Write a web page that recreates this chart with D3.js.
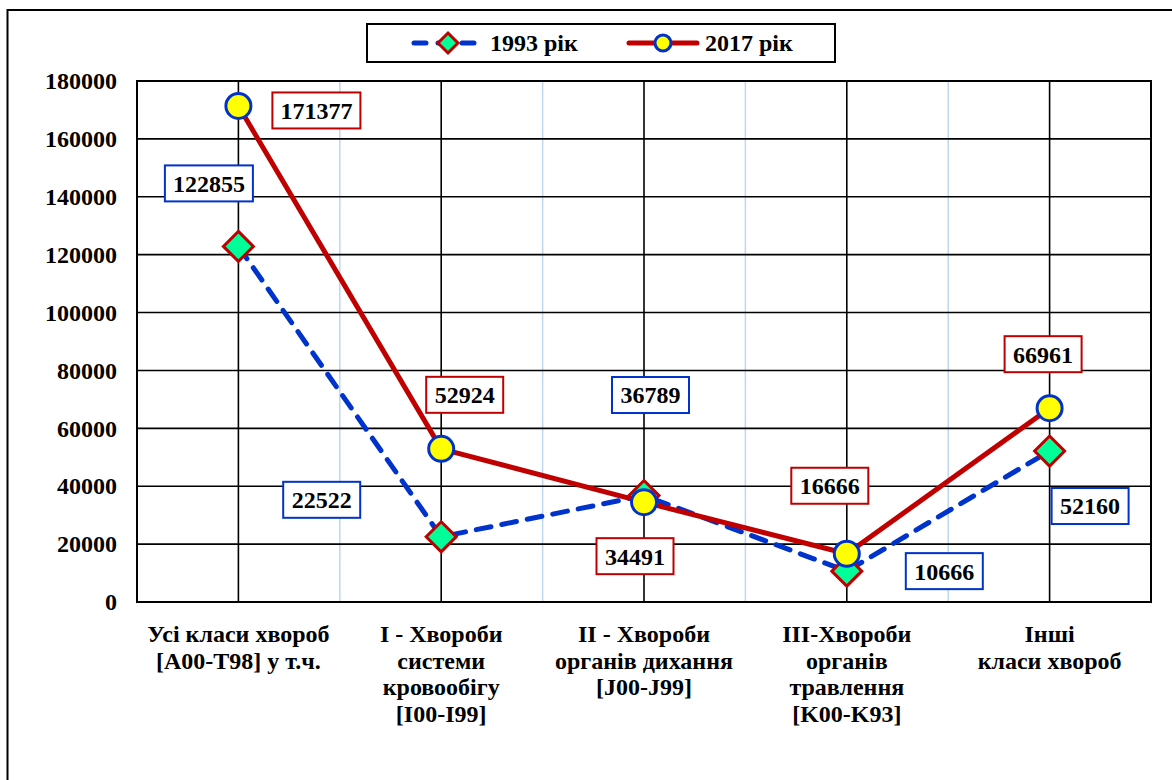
<!DOCTYPE html>
<html><head><meta charset="utf-8">
<script src="https://cdn.jsdelivr.net/npm/d3@7/dist/d3.min.js"></script>
</head>
<body style="margin:0;padding:0;background:#fff">
<svg id="chart" width="1172" height="780" style="display:block"></svg>
<script>
// ---- data ----
const categories = [
  ["Усі класи хвороб", "[A00-T98] у т.ч."],
  ["I - Хвороби", "системи", "кровообігу", "[I00-I99]"],
  ["II - Хвороби", "органів дихання", "[J00-J99]"],
  ["III-Хвороби", "органів", "травлення", "[K00-K93]"],
  ["Інші", "класи хвороб"]
];
const seriesNames = ["1993 рік", "2017 рік"];
const values1993 = [122855, 22522, 36789, 10666, 52160];
const values2017 = [171377, 52924, 34491, 16666, 66961];
const yTicks = [0, 20000, 40000, 60000, 80000, 100000, 120000, 140000, 160000, 180000];

// ---- label placement (pixel offsets from point) ----
const labelOffsets1993 = [[-29.5,-63],[-119.5,-37],[6.5,-100.5],[97.5,0],[40.5,55]];
const labelOffsets2017 = [[78,4.5],[23.5,-54],[-9,54],[-17,-68],[-6.5,-54]];

const FONT = "Liberation Serif";
const FS = 24;
function styleText(sel){
  return sel.attr("font-family",FONT).attr("font-weight","bold").attr("font-size",FS)
    .style("font-family",FONT).style("font-weight","bold").style("font-size",FS+"px").style("fill","#000");
}
const svg = d3.select("#chart");
const L = 137, R = 1151, T = 81, B = 602;
const red = "#C00000", blue = "#0033CC";

// outer border
svg.append("rect").attr("x",7.5).attr("y",10).attr("width",1180).attr("height",790)
  .attr("fill","none").attr("stroke","#000").attr("stroke-width",2);

const x = d3.scaleBand().domain(d3.range(categories.length)).range([L,R]).paddingInner(0).paddingOuter(0);
const xc = i => x(i) + x.bandwidth()/2;
const y = d3.scaleLinear().domain([0,180000]).range([B,T]);

const g = svg.append("g");
g.selectAll(".vb").data(d3.range(1,categories.length)).join("line")
  .attr("x1",d=>x(d)).attr("x2",d=>x(d)).attr("y1",T).attr("y2",B)
  .attr("stroke","#BDD7EE").attr("stroke-width",1.5);
g.selectAll(".hg").data(yTicks).join("line")
  .attr("x1",L).attr("x2",R).attr("y1",d=>y(d)).attr("y2",d=>y(d))
  .attr("stroke","#000").attr("stroke-width",1.6);
g.selectAll(".vc").data(d3.range(categories.length)).join("line")
  .attr("x1",d=>xc(d)).attr("x2",d=>xc(d)).attr("y1",T).attr("y2",B)
  .attr("stroke","#000").attr("stroke-width",1.6);
g.append("rect").attr("x",L).attr("y",T).attr("width",R-L).attr("height",B-T)
  .attr("fill","none").attr("stroke","#000").attr("stroke-width",2);

// y axis labels
const yAxis = d3.axisLeft(y).tickValues(yTicks).tickSize(0).tickPadding(20).tickFormat(d3.format("d"));
const ya = svg.append("g").attr("transform",`translate(${L},0)`).call(yAxis);
ya.attr("font-family",FONT).attr("font-size",FS).attr("font-weight","bold");
ya.select(".domain").remove();
styleText(ya.selectAll("text"));

// category labels
const cl = svg.append("g");
categories.forEach((lines,i)=>{
  const t = styleText(cl.append("text").attr("text-anchor","middle"));
  lines.forEach((ln,j)=>{
    t.append("tspan").attr("x",xc(i)).attr("y",642 + j*26.5).text(ln);
  });
});

// series
const line = d3.line().x((d,i)=>xc(i)).y(d=>y(d));
svg.append("path").datum(values1993).attr("d",line).attr("fill","none")
  .attr("stroke",blue).attr("stroke-width",5).attr("stroke-dasharray","15,11").attr("stroke-linecap","round");
const dsz = 15;
svg.selectAll(".dm").data(values1993).join("path")
  .attr("d",(d,i)=>`M${xc(i)},${y(d)-dsz}L${xc(i)+dsz},${y(d)}L${xc(i)},${y(d)+dsz}L${xc(i)-dsz},${y(d)}Z`)
  .attr("fill","#00FF99").attr("stroke",red).attr("stroke-width",3);
svg.append("path").datum(values2017).attr("d",line).attr("fill","none")
  .attr("stroke",red).attr("stroke-width",5);
svg.selectAll(".cm").data(values2017).join("circle")
  .attr("cx",(d,i)=>xc(i)).attr("cy",d=>y(d)).attr("r",12.5)
  .attr("fill","#FFFF00").attr("stroke",blue).attr("stroke-width",3);

// data labels
function labels(vals, offs, color){
  vals.forEach((v,i)=>{
    const cx = xc(i)+offs[i][0], cy = y(v)+offs[i][1];
    const txt = String(v);
    const w = txt.length*11 + 22, h = 36;
    svg.append("rect").attr("x",cx-w/2).attr("y",cy-h/2).attr("width",w).attr("height",h)
      .attr("fill","#fff").attr("stroke",color).attr("stroke-width",2);
    styleText(svg.append("text").attr("x",cx).attr("y",cy).attr("dy","0.35em").attr("text-anchor","middle")).text(txt);
  });
}
labels(values1993, labelOffsets1993, blue);
labels(values2017, labelOffsets2017, red);

// legend
const lg = svg.append("g");
lg.append("rect").attr("x",367).attr("y",24).attr("width",468).attr("height",38)
  .attr("fill","#fff").attr("stroke","#000").attr("stroke-width",2);
const ly = 43;
lg.append("line").attr("x1",414).attr("x2",474).attr("y1",ly).attr("y2",ly)
  .attr("stroke",blue).attr("stroke-width",5).attr("stroke-linecap","round").attr("stroke-dasharray","12,12");
lg.append("path").attr("d",`M448,${ly-10}L458,${ly}L448,${ly+10}L438,${ly}Z`)
  .attr("fill","#00FF99").attr("stroke",red).attr("stroke-width",3);
styleText(lg.append("text").attr("x",490).attr("y",ly).attr("dy","0.35em")).text(seriesNames[0]);
lg.append("line").attr("x1",629).attr("x2",697).attr("y1",ly).attr("y2",ly)
  .attr("stroke",red).attr("stroke-width",5).attr("stroke-linecap","round");
lg.append("circle").attr("cx",663).attr("cy",ly).attr("r",8)
  .attr("fill","#FFFF00").attr("stroke",blue).attr("stroke-width",3);
styleText(lg.append("text").attr("x",705).attr("y",ly).attr("dy","0.35em")).text(seriesNames[1]);
</script>
</body></html>
